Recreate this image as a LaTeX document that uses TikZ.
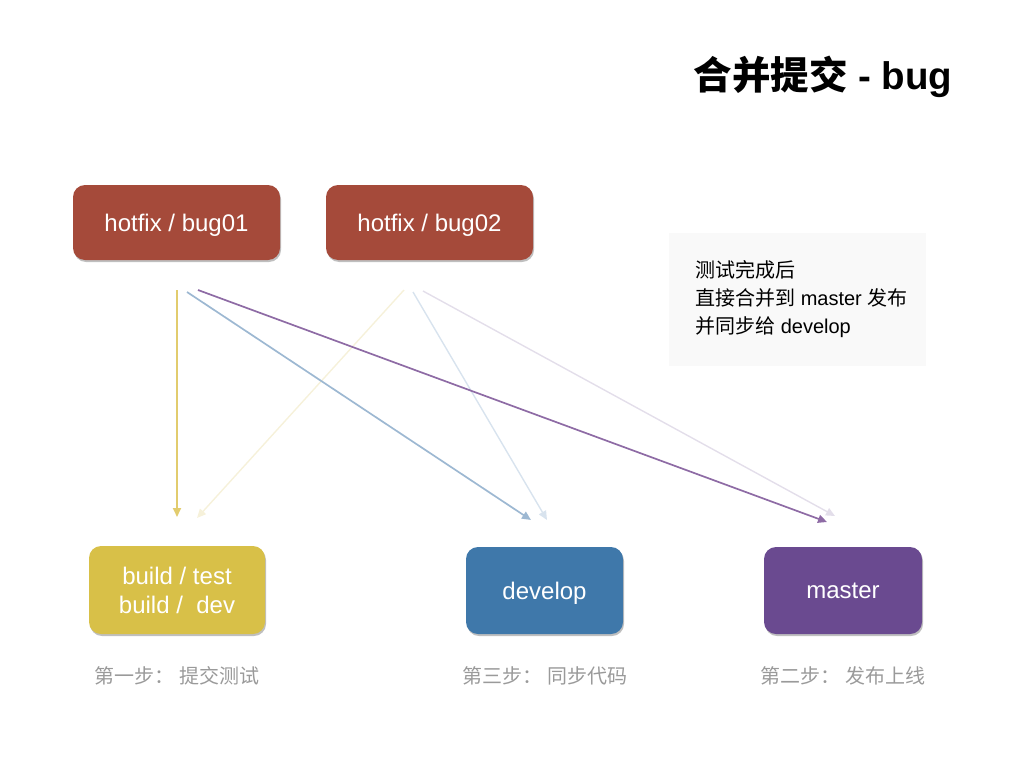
\documentclass[tikz,border=0pt]{standalone}
\usepackage{fontspec}
\setmainfont{Liberation Sans}
\newfontfamily\cjk{Noto Sans CJK SC}
\usetikzlibrary{shadows,arrows.meta}

\definecolor{hotfixred}{HTML}{A54A3A}
\definecolor{buildyellow}{HTML}{D8C048}
\definecolor{devblue}{HTML}{3F78AA}
\definecolor{masterpurple}{HTML}{6A4A90}
\definecolor{notebg}{HTML}{F9F9F9}
\definecolor{steptext}{HTML}{9A9A9A}
\definecolor{lnyellow}{HTML}{E2CC6E}
\definecolor{lnblue}{HTML}{9DB8D2}
\definecolor{lnpurple}{HTML}{8E6BA5}
\definecolor{lnpaleyellow}{HTML}{F6F1DA}
\definecolor{lnpaleblue}{HTML}{D8E3EE}
\definecolor{lnpalepurple}{HTML}{E3DEEA}

\tikzset{
  branch/.style={rounded corners=12pt, inner sep=0pt, text=white, align=center,
    font=\fontsize{24}{29}\selectfont, text depth=0pt,
    drop shadow={shadow xshift=1pt, shadow yshift=-2pt, opacity=0.25, fill=black}},
  steplabel/.style={text=steptext, font=\cjk\fontsize{20}{24}\selectfont},
  flow/.style={line width=1.7pt, -{Triangle[length=9pt,width=8pt]}},
  faint/.style={line width=1.4pt, -{Triangle[length=9pt,width=8pt]}}
}

\begin{document}
\begin{tikzpicture}[x=1pt,y=-1pt]
\useasboundingbox (0,0) rectangle (1024,768);

% title
\node[anchor=east, font=\bfseries\fontsize{38.5}{44}\selectfont] (title) at (956,77)
  {{\cjk 合并提交} - bug};

% branch boxes
\node[branch, fill=hotfixred, minimum width=207pt, minimum height=75pt] (bug01) at (176.5,222.5) {hotfix / bug01};
\node[branch, fill=hotfixred, minimum width=207pt, minimum height=75pt] (bug02) at (429.5,222.5) {hotfix / bug02};
\node[branch, fill=buildyellow, minimum width=176pt, minimum height=88pt] (build) at (177,590) {build / test\\build /\ \ dev};
\node[branch, fill=devblue, minimum width=157pt, minimum height=87pt] (develop) at (544.5,590.5) {develop};
\node[branch, fill=masterpurple, minimum width=158pt, minimum height=87pt] (master) at (843,590.5) {master};

% note
\node[fill=notebg, minimum width=257pt, minimum height=133pt, inner sep=0pt] (note) at (797.5,299.5) {};
\node[anchor=west, align=left, inner sep=0pt, font=\fontsize{20}{28}\selectfont] (notetext) at (695,299)
  {{\cjk 测试完成后}\\{\cjk 直接合并到} master {\cjk 发布}\\{\cjk 并同步给} develop};

% step labels
\node[steplabel] (step1) at (177,676) {第一步：\ 提交测试};
\node[steplabel] (step3) at (545,676) {第三步：\ 同步代码};
\node[steplabel] (step2) at (843,676) {第二步：\ 发布上线};

% connector end points
\coordinate (a1s) at (177,290);  \coordinate (a1e) at (177,517);
\coordinate (a2s) at (187,292);  \coordinate (a2e) at (531,520);
\coordinate (a3s) at (198,290);  \coordinate (a3e) at (827,522);
\coordinate (b1s) at (404,290);  \coordinate (b1e) at (197,518);
\coordinate (b2s) at (413,292);  \coordinate (b2e) at (547,520);
\coordinate (b3s) at (423,291);  \coordinate (b3e) at (835,516);

% bug02 flows (faint)
\draw[faint, draw=lnpaleyellow] (b1s) -- (b1e);
\draw[faint, draw=lnpaleblue] (b2s) -- (b2e);
\draw[faint, draw=lnpalepurple] (b3s) -- (b3e);

% bug01 flows
\draw[flow, draw=lnyellow] (a1s) -- (a1e);
\draw[flow, draw=lnblue] (a2s) -- (a2e);
\draw[flow, draw=lnpurple] (a3s) -- (a3e);
\end{tikzpicture}
\end{document}
